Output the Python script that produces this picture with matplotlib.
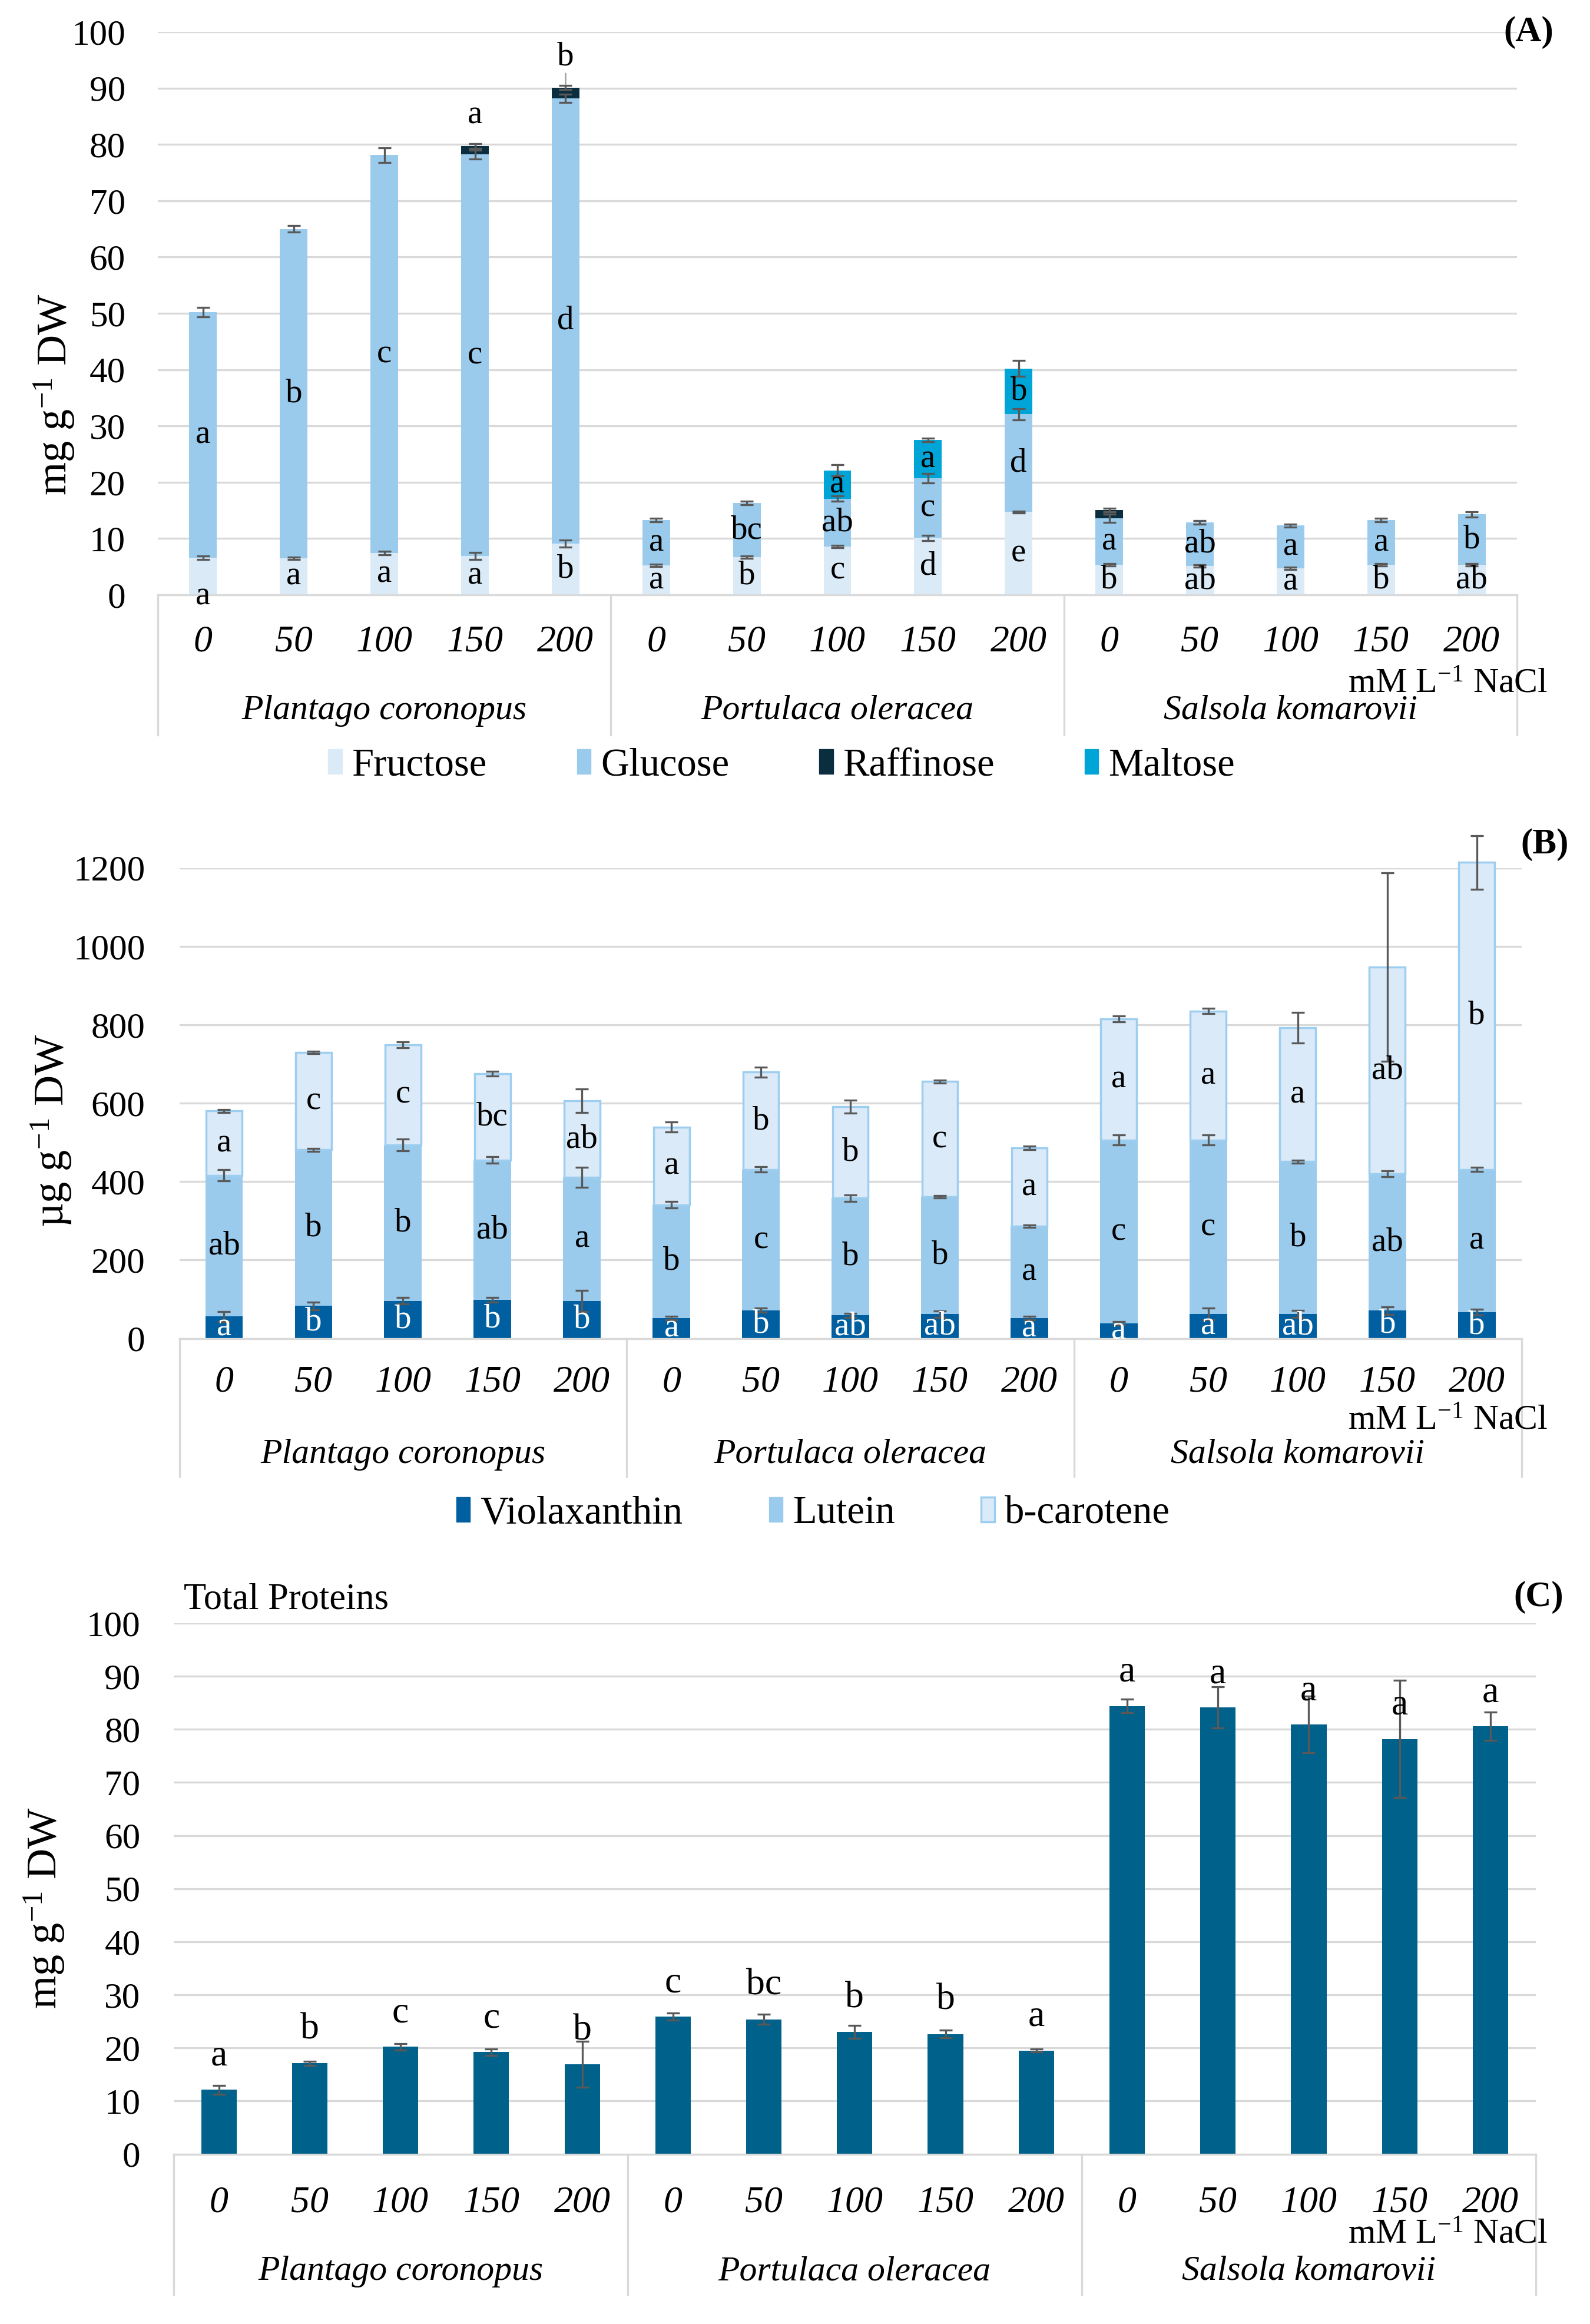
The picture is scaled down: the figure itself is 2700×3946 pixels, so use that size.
import matplotlib
matplotlib.use('Agg')
import matplotlib.pyplot as plt
import numpy as np
from matplotlib.transforms import blended_transform_factory
from matplotlib.patches import Patch

plt.rcParams['font.family'] = ['Liberation Serif', 'DejaVu Serif']
plt.rcParams['mathtext.fontset'] = 'custom'
plt.rcParams['mathtext.rm'] = 'Liberation Serif'
plt.rcParams['mathtext.it'] = 'Liberation Serif:italic'

# ---------------- data ----------------
doses = ['0', '50', '100', '150', '200']
species = ['Plantago coronopus', 'Portulaca oleracea', 'Salsola komarovii']

# Panel A: sugars (mg g-1 DW), stacked segments
fructose = [6.6, 6.5, 7.4, 6.9, 9.1, 5.2, 6.7, 8.6, 10.1, 14.7, 5.3, 5.1, 4.7, 5.3, 5.3]
glucose = [43.6, 58.5, 70.7, 71.3, 79.1, 8.1, 9.6, 8.5, 10.6, 17.4, 8.3, 7.8, 7.6, 8.0, 9.0]
raffinose = [0, 0, 0, 1.5, 1.9, 0, 0, 0, 0, 0, 1.5, 0, 0, 0, 0]
maltose = [0, 0, 0, 0, 0, 0, 0, 5.0, 6.8, 8.1, 0, 0, 0, 0, 0]
fructose_err = [0.3, 0.2, 0.3, 0.6, 0.6, 0.2, 0.2, 0.2, 0.5, 0.2, 0.2, 0.2, 0.2, 0.2, 0.2]
glucose_err = [0.8, 0.6, 1.3, 0.8, 0.7, 0.3, 0.3, 0.5, 0.8, 1.0, 0.7, 0.3, 0.3, 0.3, 0.5]
raffinose_err = [0, 0, 0, 0.4, 0.4, 0, 0, 0, 0, 0, 0.3, 0, 0, 0, 0]
maltose_err = [0, 0, 0, 0, 0, 0, 0, 1.0, 0.3, 1.4, 0, 0, 0, 0, 0]
fructose_let = ['a', 'a', 'a', 'a', 'b', 'a', 'b', 'c', 'd', 'e', 'b', 'ab', 'a', 'b', 'ab']
glucose_let = ['a', 'b', 'c', 'c', 'd', 'a', 'bc', 'ab', 'c', 'd', 'a', 'ab', 'a', 'a', 'b']
raffinose_let = ['', '', '', 'a', 'b', '', '', '', '', '', '', '', '', '', '']
maltose_let = ['', '', '', '', '', '', '', 'a', 'a', 'b', '', '', '', '', '']

# Panel B: carotenoids (ug g-1 DW), stacked segments
violaxanthin = [56, 83, 96, 99, 96, 52, 72, 59, 62, 52, 39, 62, 62, 71, 67]
lutein = [360, 398, 398, 356, 315, 289, 359, 299, 300, 235, 467, 444, 389, 349, 364]
bcarotene = [164, 248, 255, 220, 195, 198, 248, 233, 293, 199, 309, 329, 341, 527, 783]
violaxanthin_err = [13, 10, 8, 6, 27, 4, 5, 5, 8, 4, 4, 15, 9, 10, 8]
lutein_err = [14, 4, 15, 8, 26, 8, 7, 8, 3, 3, 13, 13, 4, 8, 5]
bcarotene_err = [4, 3, 8, 6, 30, 13, 13, 16, 4, 5, 8, 7, 39, 240, 68]
violaxanthin_let = ['a', 'b', 'b', 'b', 'b', 'a', 'b', 'ab', 'ab', 'a', 'a', 'a', 'ab', 'b', 'b']
lutein_let = ['ab', 'b', 'b', 'ab', 'a', 'b', 'c', 'b', 'b', 'a', 'c', 'c', 'b', 'ab', 'a']
bcarotene_let = ['a', 'c', 'c', 'bc', 'ab', 'a', 'b', 'b', 'c', 'a', 'a', 'a', 'a', 'ab', 'b']

# Panel C: total proteins (mg g-1 DW)
proteins = [12.1, 17.1, 20.2, 19.2, 16.9, 25.9, 25.4, 23.0, 22.6, 19.5, 84.4, 84.1, 80.9, 78.2, 80.6]
proteins_err = [0.8, 0.4, 0.6, 0.6, 4.3, 0.7, 0.9, 1.2, 0.7, 0.3, 1.3, 3.9, 5.3, 11.0, 2.7]
proteins_let = ['a', 'b', 'c', 'c', 'b', 'c', 'bc', 'b', 'b', 'a', 'a', 'a', 'a', 'a', 'a']

# ---------------- style ----------------
C_FRU = '#DAEAF7'
C_GLU = '#9ACBEC'
C_RAF = '#0B2E3F'
C_MAL = '#00A5D8'
C_VIO = '#005FA0'
C_LUT = '#9ACBEC'
C_BCA = '#DAEAF8'
C_BCA_EDGE = '#9DCEF0'
C_PRO = '#00618A'
GRID = '#D9D9D9'
ERR = '#595959'

LET_FS = 41
TICK_FS = 44
XTICK_FS = 46
SPEC_FS = 43

W, H = 2700, 3946
fig = plt.figure(figsize=(W / 100, H / 100), dpi=100)
fig.patch.set_facecolor('white')


def rect(x0, y0, x1, y1):
    return [x0 / W, 1 - y1 / H, (x1 - x0) / W, (y1 - y0) / H]


def fy(y):
    return 1 - y / H


def fx(x):
    return x / W


x = np.arange(15)


def errs(ax, xs, tops, e, vals):
    idx = [i for i in range(len(xs)) if vals[i] > 0 and e[i] > 0]
    if not idx:
        return
    c = ax.errorbar(np.array(xs)[idx], np.array(tops)[idx], yerr=np.array(e)[idx],
                    fmt='none', ecolor=ERR, elinewidth=2.4, capsize=8, capthick=2.4, zorder=5)
    for part in c.lines:
        if part is None:
            continue
        if isinstance(part, (list, tuple)):
            for p in part:
                p.set_clip_on(False)
        else:
            part.set_clip_on(False)


def finish_axis(ax, ymax, ystep, xpad_px, ypad_px, sep_bottom, species_y, mm_y):
    ax.set_xlim(-0.5, 14.5)
    ax.set_ylim(0, ymax)
    ax.set_yticks(np.arange(0, ymax + ystep / 2, ystep))
    ax.yaxis.grid(True, color=GRID, linewidth=2.4)
    ax.set_axisbelow(True)
    for s in ('top', 'right', 'left'):
        ax.spines[s].set_visible(False)
    ax.spines['bottom'].set_color(GRID)
    ax.spines['bottom'].set_linewidth(2.4)
    ax.tick_params(axis='y', length=0, labelsize=TICK_FS, pad=ypad_px * 0.72)
    ax.set_xticks(x, labels=doses * 3, fontstyle='italic', fontsize=XTICK_FS)
    ax.tick_params(axis='x', length=0, pad=xpad_px * 0.72)
    plt.setp(ax.get_xticklabels(), va='center')
    tr = blended_transform_factory(ax.transData, fig.transFigure)
    y0 = ax.get_position().y0
    for xs in (-0.5, 4.5, 9.5, 14.5):
        ax.plot([xs, xs], [y0, fy(sep_bottom)], transform=tr, color=GRID, lw=2.4, clip_on=False)
    for g, name in enumerate(species):
        ax.text(g * 5 + 2, fy(species_y), name, transform=tr, ha='center', va='center',
                fontstyle='italic', fontsize=SPEC_FS)
    fig.text(fx(2628), fy(mm_y), 'mM L$^{-1}$ NaCl', ha='right', va='center', fontsize=43)


def labels(ax, ys, texts, color='black', fs=LET_FS):
    for i, (yv, t) in enumerate(zip(ys, texts)):
        if t:
            ax.text(x[i], yv, t, ha='center', va='center', fontsize=fs, color=color, zorder=6)


# ================= Panel A =================
axA = fig.add_axes(rect(268, 54, 2576, 1010))
fru = np.array(fructose, float)
glu = np.array(glucose, float)
raf = np.array(raffinose, float)
mal = np.array(maltose, float)
wA = 0.305
axA.bar(x, fru, wA, color=C_FRU, zorder=2, label='Fructose')
axA.bar(x, glu, wA, bottom=fru, color=C_GLU, zorder=2, label='Glucose')
axA.bar(x, raf, wA, bottom=fru + glu, color=C_RAF, zorder=2, label='Raffinose')
axA.bar(x, mal, wA, bottom=fru + glu + raf, color=C_MAL, zorder=2, label='Maltose')
errs(axA, x, fru, fructose_err, fru)
errs(axA, x, fru + glu, glucose_err, glu)
errs(axA, x, fru + glu + raf, raffinose_err, raf)
errs(axA, x, fru + glu + raf + mal, maltose_err, mal)
fru_lab_y = fru / 2
fru_lab_y[0] = -0.3
labels(axA, fru_lab_y, fructose_let)
labels(axA, fru + glu / 2, glucose_let)
labels(axA, fru + glu + raf + mal / 2, maltose_let)
for i, t in enumerate(raffinose_let):
    if t:
        top = fru[i] + glu[i] + raf[i]
        axA.annotate(t, xy=(x[i], top + 0.6), xytext=(x[i], top + 5.5), ha='center', va='center',
                     fontsize=LET_FS, zorder=6,
                     arrowprops=dict(arrowstyle='-', color='#A6A6A6', lw=2, shrinkA=20, shrinkB=0)
                     if i == 4 else None)
finish_axis(axA, 100, 10, 80, 55, 1248, 1207, 1162)
fig.text(fx(92), fy(670), 'mg g$^{-1}$ DW', rotation=90, ha='center', va='center', fontsize=52)
fig.text(fx(2638), fy(55), '(A)', ha='right', va='center', fontsize=44, fontweight='bold')
hA = [Patch(color=C_FRU), Patch(color=C_GLU), Patch(color=C_RAF), Patch(color=C_MAL)]
fig.legend(hA, ['Fructose', 'Glucose', 'Raffinose', 'Maltose'], loc='center',
           bbox_to_anchor=(fx(1327), fy(1300)), ncol=4, frameon=False, fontsize=48,
           handlelength=0.35, handleheight=0.6, handletextpad=0.25, columnspacing=2.3)

# ================= Panel B =================
axB = fig.add_axes(rect(304.5, 1473.6, 2583.6, 2272.6))
vio = np.array(violaxanthin, float)
lut = np.array(lutein, float)
bca = np.array(bcarotene, float)
wB = 0.42
axB.bar(x, vio, wB, color=C_VIO, zorder=2)
axB.bar(x, lut, wB, bottom=vio, color=C_LUT, zorder=2)
axB.bar(x, bca, wB - 0.02, bottom=vio + lut, color=C_BCA, edgecolor=C_BCA_EDGE, linewidth=2.5,
        zorder=2, clip_on=False)
errs(axB, x, vio, violaxanthin_err, vio)
errs(axB, x, vio + lut, lutein_err, lut)
errs(axB, x, vio + lut + bca, bcarotene_err, bca)
labels(axB, vio / 2, violaxanthin_let, color='white')
labels(axB, vio + lut / 2, lutein_let)
labels(axB, vio + lut + bca / 2, bcarotene_let)
finish_axis(axB, 1200, 200, 75, 58, 2507, 2470, 2413)
fig.text(fx(87), fy(1920), '\u00b5g g$^{-1}$ DW', rotation=90, ha='center', va='center', fontsize=52)
fig.text(fx(2664), fy(1434), '(B)', ha='right', va='center', fontsize=44, fontweight='bold')
hB = [Patch(color=C_VIO), Patch(color=C_LUT), Patch(facecolor=C_BCA, edgecolor=C_BCA_EDGE, linewidth=2.5)]
fig.legend(hB, ['Violaxanthin', 'Lutein', 'b-carotene'], loc='center',
           bbox_to_anchor=(fx(1381), fy(2570)), ncol=3, frameon=False, fontsize=48,
           handlelength=0.35, handleheight=0.6, handletextpad=0.25, columnspacing=2.2)

# ================= Panel C =================
axC = fig.add_axes(rect(294.6, 2756, 2608, 3657.5))
pro = np.array(proteins, float)
axC.bar(x, pro, 0.39, color=C_PRO, zorder=2)
errs(axC, x, pro, proteins_err, pro)
labels(axC, pro + 6.3, proteins_let, fs=46)
finish_axis(axC, 100, 10, 83, 56, 3896, 3857, 3795)
fig.text(fx(75), fy(3240), 'mg g$^{-1}$ DW', rotation=90, ha='center', va='center', fontsize=52)
fig.text(fx(2655), fy(2712), '(C)', ha='right', va='center', fontsize=44, fontweight='bold')
fig.text(fx(312), fy(2716), 'Total Proteins', ha='left', va='center', fontsize=45)

fig.savefig('out.png', dpi=100, facecolor='white')
